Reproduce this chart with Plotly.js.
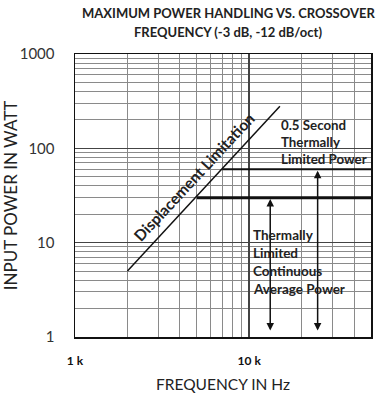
<!DOCTYPE html>
<html>
<head>
<meta charset="utf-8">
<script src="https://cdn.plot.ly/plotly-3.0.1.min.js"></script>
<style>html,body{margin:0;padding:0;background:#fff}#chart{width:379px;height:393px}</style>
</head>
<body>
<div id="chart"></div>
<script>
// ---- data ----
const xTickVals = [1000, 10000];
const xTickText = ['1 k', '10 k'];
const yTickVals = [1, 10, 100, 1000];
const yTickText = ['1', '10', '100', '1000'];

const dispFreq = [2000, 15000];
const dispPower = [5, 280];

const shortTermFreq = [7000, 50000];
const shortTermPower = [60, 60];

const contFreq = [5000, 50000];
const contPower = [30, 30];

const arrowFreq = [13200, 24700];
const arrowLow = [1.13, 1.13];
const arrowHigh = [29, 58];

const titleLines = ['MAXIMUM POWER HANDLING VS. CROSSOVER', 'FREQUENCY (-3 dB, -12 dB/oct)'];
const dispLabel = 'Displacement Limitation';
const shortLabel = ['0.5 Second', 'Thermally', 'Limited Power'];
const contLabel = ['Thermally', 'Limited', 'Continuous', 'Average Power'];

// ---- layout helpers ----
const L = 75, T = 54, W = 296, H = 283;
const px = x => (x - L) / W;
const py = y => (T + H - y) / H;
const lbl = '#222';
const fam = 'Lato, "Open Sans", sans-serif';

const traces = [
  {x: dispFreq, y: dispPower, mode: 'lines', line: {color: '#111', width: 1.5}, hoverinfo: 'skip'},
  {x: shortTermFreq, y: shortTermPower, mode: 'lines', line: {color: '#111', width: 2}, hoverinfo: 'skip'},
  {x: contFreq, y: contPower, mode: 'lines', line: {color: '#111', width: 3}, hoverinfo: 'skip'}
];

const annotations = [];
arrowFreq.forEach((f, i) => {
  annotations.push({
    x: Math.log10(f), y: Math.log10(arrowHigh[i]),
    ax: Math.log10(f), ay: Math.log10(arrowLow[i]),
    xref: 'x', yref: 'y', axref: 'x', ayref: 'y',
    text: '', showarrow: true, arrowhead: 2, startarrowhead: 2,
    arrowside: 'end+start', arrowsize: 1, startarrowsize: 1, arrowwidth: 1.5, arrowcolor: '#111',
    standoff: 0, startstandoff: 0
  });
});

const titleY = [13, 32];
titleLines.forEach((t, i) => annotations.push({
  x: px(228), y: py(titleY[i]), xref: 'paper', yref: 'paper', xanchor: 'center', yanchor: 'middle',
  text: '<b>' + t + '</b>', showarrow: false, font: {family: fam, size: 13, color: '#222'}
}));

annotations.push({
  x: px(194), y: py(177), xref: 'paper', yref: 'paper',
  text: '<b>' + dispLabel + '</b>', showarrow: false, textangle: -47,
  font: {family: fam, size: 15.5, color: lbl}
});

const shortY = [125, 142, 159];
shortLabel.forEach((t, i) => annotations.push({
  x: px(278.5), y: py(shortY[i]), xref: 'paper', yref: 'paper', xanchor: 'left', yanchor: 'middle',
  text: '<b>' + t + '</b>', showarrow: false, font: {family: fam, size: 13.3, color: lbl}
}));

const contY = [235, 253, 271, 289];
contLabel.forEach((t, i) => annotations.push({
  x: px(251), y: py(contY[i]), xref: 'paper', yref: 'paper', xanchor: 'left', yanchor: 'middle',
  text: '<b>' + t + '</b>', showarrow: false, font: {family: fam, size: 13.5, color: lbl}
}));

const layout = {
  width: 379, height: 393,
  margin: {l: L, r: 379 - L - W, t: T, b: 393 - T - H},
  paper_bgcolor: '#fff', plot_bgcolor: '#fff',
  showlegend: false,
  xaxis: {
    type: 'log', range: [3, Math.log10(50000)],
    tickmode: 'array', tickvals: xTickVals, ticktext: xTickText,
    tickfont: {family: fam, size: 12, color: '#111', weight: 'bold'},
    ticks: '', ticklabelstandoff: 12,
    showgrid: true, gridcolor: '#444', gridwidth: 1.5,
    minor: {tickmode: 'linear', dtick: 'D1', showgrid: true, gridcolor: '#8a8a8a', gridwidth: 1, ticks: ''},
    showline: true, mirror: true, linecolor: '#111', linewidth: 1.5,
    zeroline: false,
    title: {text: 'FREQUENCY IN Hz', font: {family: fam, size: 15.5, color: '#222'}, standoff: 14}
  },
  yaxis: {
    type: 'log', range: [0, 3],
    tickmode: 'array', tickvals: yTickVals, ticktext: yTickText,
    tickfont: {family: fam, size: 15, color: '#333'},
    ticks: '', ticklabelstandoff: 16,
    showgrid: true, gridcolor: '#444', gridwidth: 1.5,
    minor: {tickmode: 'linear', dtick: 'D1', showgrid: true, gridcolor: '#8a8a8a', gridwidth: 1, ticks: ''},
    showline: true, mirror: true, linecolor: '#111', linewidth: 1.5,
    zeroline: false,
    title: {text: 'INPUT POWER IN WATT', font: {family: fam, size: 17, color: '#222'}, standoff: 10}
  },
  annotations: annotations
};

Plotly.newPlot('chart', traces, layout, {displayModeBar: false, staticPlot: true});
</script>
</body>
</html>
